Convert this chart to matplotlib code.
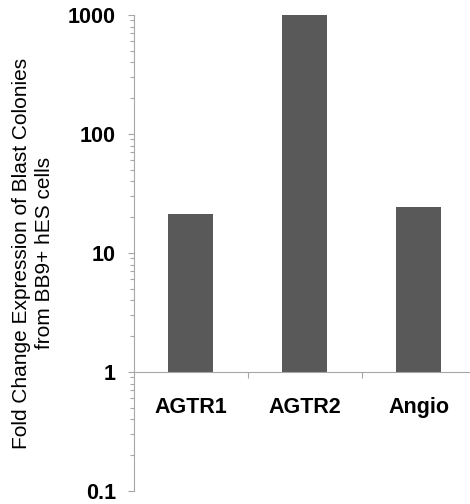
import matplotlib.pyplot as plt
import numpy as np
from matplotlib.ticker import LogLocator, NullFormatter, FixedLocator

# data
genes = ['AGTR1', 'AGTR2', 'Angio']
fold_change = [21.3, 1000, 24.4]
ytick_vals = [0.1, 1, 10, 100, 1000]
ytick_labels = ['0.1', '1', '10', '100', '1000']

plt.rcParams['font.family'] = ['Liberation Sans', 'DejaVu Sans']

fig = plt.figure(figsize=(4.70, 5.04), dpi=100)
ax = fig.add_axes([134 / 470, 13 / 504, 336 / 470, 476 / 504])

x = np.arange(len(genes))
# bars start at the x axis (y = 1)
ax.bar(x, np.array(fold_change) - 1, bottom=1, width=0.395, color='#595959')

ax.set_yscale('log')
ax.set_ylim(0.1, 1000)
ax.set_xlim(-0.5, 2.45)

axis_gray = '#a6a6a6'
ax.spines['top'].set_visible(False)
ax.spines['right'].set_visible(False)
ax.spines['bottom'].set_position(('data', 1))
ax.spines['bottom'].set_color(axis_gray)
ax.spines['left'].set_color(axis_gray)

ax.set_yticks(ytick_vals)
ax.set_yticklabels(ytick_labels, fontsize=15.5, fontweight='bold')
ax.yaxis.set_minor_locator(LogLocator(base=10, subs=np.arange(2, 10), numticks=20))
ax.yaxis.set_minor_formatter(NullFormatter())
ax.tick_params(axis='y', which='major', direction='out', length=4, width=0.8,
               color=axis_gray, pad=9)
ax.tick_params(axis='y', which='minor', direction='out', length=3, width=0.8,
               color=axis_gray)

ax.set_xticks(x)
ax.set_xticklabels(genes, fontsize=15.5, fontweight='bold')
ax.xaxis.set_minor_locator(FixedLocator([0.5, 1.5]))
ax.tick_params(axis='x', which='major', length=0, pad=18)
ax.tick_params(axis='x', which='minor', direction='out', length=4, width=0.8,
               color=axis_gray)

ax.set_ylabel('Fold Change Expression of Blast Colonies\nfrom BB9+ hES cells',
              fontsize=15, labelpad=10, linespacing=1.3)

fig.savefig('out.png', dpi=100)
